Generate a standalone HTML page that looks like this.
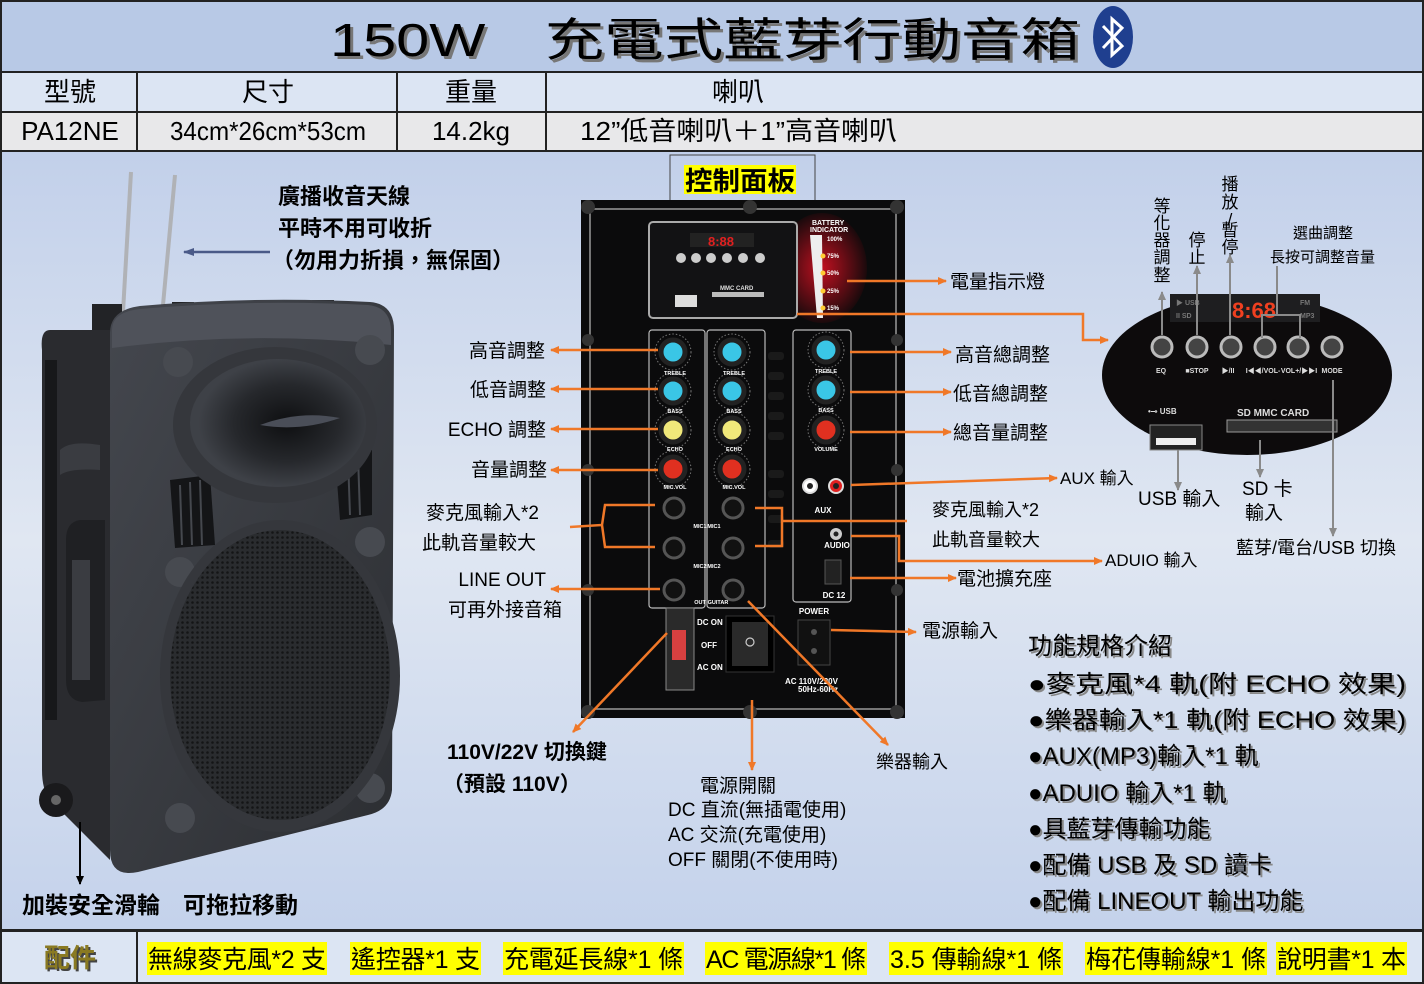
<!DOCTYPE html>
<html><head><meta charset="utf-8"><style>
html,body{margin:0;padding:0;background:#fff}
svg{display:block}
text{font-family:"Liberation Sans","Noto Sans CJK TC",sans-serif}
</style></head><body>
<svg width="1424" height="984" viewBox="0 0 1424 984" xmlns="http://www.w3.org/2000/svg">
<defs>
<linearGradient id="bg" x1="0" y1="0" x2="0" y2="1">
<stop offset="0" stop-color="#c2d0ea"/><stop offset="0.5" stop-color="#e0e7f2"/><stop offset="1" stop-color="#c4d2eb"/>
</linearGradient>
<linearGradient id="face" x1="0" y1="0" x2="1" y2="1">
<stop offset="0" stop-color="#44474e"/><stop offset="1" stop-color="#2c2e32"/>
</linearGradient>
<radialGradient id="glow" cx="0.5" cy="0.5" r="0.5">
<stop offset="0" stop-color="#c01020"/><stop offset="1" stop-color="#1a0a0c"/>
</radialGradient>
<radialGradient id="horn" cx="0.55" cy="0.5" r="0.5">
<stop offset="0" stop-color="#0e0f11"/><stop offset="0.6" stop-color="#26282c"/><stop offset="1" stop-color="#3e4147"/>
</radialGradient>
<pattern id="mesh" width="5" height="5" patternUnits="userSpaceOnUse">
<rect width="5" height="5" fill="#2a2c2f"/><circle cx="2.5" cy="2.5" r="1.3" fill="#141516"/>
</pattern>
<marker id="ao" markerWidth="10" markerHeight="10" refX="8" refY="5" orient="auto" markerUnits="userSpaceOnUse"><path d="M0,1 L9,5 L0,9 z" fill="#f07828"/></marker>
<marker id="ag" markerWidth="10" markerHeight="10" refX="8" refY="5" orient="auto" markerUnits="userSpaceOnUse"><path d="M0,1 L9,5 L0,9 z" fill="#8a8a8a"/></marker>
<marker id="ab" markerWidth="12" markerHeight="10" refX="10" refY="5" orient="auto" markerUnits="userSpaceOnUse"><path d="M0,1 L11,5 L0,9 z" fill="#4a5a88"/></marker>
<marker id="ak" markerWidth="10" markerHeight="10" refX="8" refY="5" orient="auto" markerUnits="userSpaceOnUse"><path d="M0,1 L9,5 L0,9 z" fill="#000"/></marker>
</defs>

<rect x="0" y="0" width="1424" height="984" fill="#222"/>
<rect x="2" y="2" width="1420" height="69" fill="#b8c9e6"/>
<rect x="2" y="73" width="134" height="38" fill="#dce5f3"/>
<rect x="138" y="73" width="258" height="38" fill="#dce5f3"/>
<rect x="398" y="73" width="147" height="38" fill="#dce5f3"/>
<rect x="547" y="73" width="875" height="38" fill="#dce5f3"/>
<rect x="2" y="113" width="134" height="37" fill="#e8e8ea"/>
<rect x="138" y="113" width="258" height="37" fill="#e8e8ea"/>
<rect x="398" y="113" width="147" height="37" fill="#e8e8ea"/>
<rect x="547" y="113" width="875" height="37" fill="#e8e8ea"/>
<rect x="2" y="152" width="1420" height="777" fill="url(#bg)"/>
<rect x="2" y="932" width="134" height="50" fill="#dce5f3"/>
<rect x="138" y="932" width="1284" height="50" fill="#dce5f3"/>

<text x="333" y="59" font-size="46" textLength="750" lengthAdjust="spacingAndGlyphs" fill="#777">150W　充電式藍芽行動音箱</text>
<text x="330" y="56" font-size="46" textLength="750" lengthAdjust="spacingAndGlyphs" fill="#000">150W　充電式藍芽行動音箱</text>
<ellipse cx="1113" cy="37" rx="20" ry="31" fill="#1f3f8f"/>
<path d="M1103,26 L1122,46 L1112,55 L1112,19 L1122,28 L1103,48" fill="none" stroke="#fff" stroke-width="3"/>

<g font-size="26" text-anchor="middle">
<text x="70" y="101">型號</text><text x="268" y="101">尺寸</text><text x="471" y="101">重量</text><text x="738" y="101">喇叭</text>
<text x="70" y="140">PA12NE</text><text x="268" y="140" textLength="196" lengthAdjust="spacingAndGlyphs">34cm*26cm*53cm</text><text x="471" y="140">14.2kg</text>
</g>
<text x="580" y="140" font-size="26" textLength="317" lengthAdjust="spacingAndGlyphs">12”低音喇叭＋1”高音喇叭</text>

<!-- speaker -->
<line x1="131" y1="172" x2="123" y2="312" stroke="#b0b2b6" stroke-width="4"/>
<line x1="175" y1="175" x2="163" y2="305" stroke="#b0b2b6" stroke-width="4"/>
<rect x="92" y="304" width="30" height="30" fill="#222326"/>
<rect x="150" y="306" width="24" height="20" fill="#222326"/>
<rect x="172" y="302" width="22" height="14" fill="#222326"/>
<rect x="312" y="300" width="22" height="10" fill="#222326"/>
<path d="M50,330 Q40,330 42,350 L42,770 Q42,790 50,800 L110,860 L110,330 Z" fill="#2a2b2f"/>
<rect x="45" y="360" width="12" height="360" fill="#17181a"/>
<path d="M80,520 Q66,522 66,540 L66,680 Q66,700 82,702 L105,700 L105,520 Z" fill="#1f2023"/>
<rect x="72" y="560" width="18" height="120" fill="#3a3c41"/>
<path d="M60,450 Q70,440 100,445 L100,470 Q70,468 60,475 Z" fill="#3a3c41"/>
<circle cx="56" cy="800" r="17" fill="#1a1a1c"/><circle cx="56" cy="800" r="5" fill="#666"/>
<path d="M110,333 Q110,310 140,306 Q255,296 370,302 Q394,304 394,330 L392,790 Q390,810 368,815 L138,872 Q110,878 110,850 Z" fill="url(#face)"/>
<path d="M112,330 Q112,312 140,309 Q255,299 368,305 Q390,307 391,330 L391,345 Q250,330 112,348 Z" fill="#4f525a"/>
<circle cx="178" cy="362" r="15" fill="#474a50"/><circle cx="370" cy="350" r="15" fill="#474a50"/>
<circle cx="180" cy="572" r="15" fill="#474a50"/><circle cx="370" cy="542" r="15" fill="#474a50"/>
<circle cx="180" cy="818" r="15" fill="#474a50"/><circle cx="370" cy="788" r="15" fill="#474a50"/>
<path d="M170,480 L210,475 L215,545 L175,548 Z" fill="#141517"/>
<path d="M335,455 L372,450 L372,515 L340,520 Z" fill="#141517"/>
<g stroke="#45484e" stroke-width="2"><line x1="180" y1="485" x2="182" y2="545"/><line x1="190" y1="482" x2="192" y2="545"/><line x1="200" y1="480" x2="202" y2="545"/><line x1="348" y1="458" x2="350" y2="515"/><line x1="358" y1="456" x2="360" y2="515"/></g>
<ellipse cx="275" cy="425" rx="102" ry="78" fill="#35373c"/>
<ellipse cx="278" cy="423" rx="88" ry="64" fill="url(#horn)"/>
<path d="M260,425 Q300,410 340,418 Q300,432 260,425 Z" fill="#4a4e58"/>
<ellipse cx="280" cy="676" rx="120" ry="156" fill="#35373c"/>
<ellipse cx="280" cy="675" rx="110" ry="145" fill="url(#mesh)"/>

<g font-size="22" font-weight="bold">
<text x="278" y="204">廣播收音天線</text>
<text x="278" y="236">平時不用可收折</text>
<text x="272" y="268">（勿用力折損，無保固）</text>
</g>
<line x1="270" y1="252" x2="184" y2="252" stroke="#4a5a88" stroke-width="2.5" marker-end="url(#ab)"/>

<line x1="80" y1="822" x2="80" y2="884" stroke="#000" stroke-width="2" marker-end="url(#ak)"/>
<text x="22" y="913" font-size="23" font-weight="bold">加裝安全滑輪　可拖拉移動</text>

<rect x="670" y="155" width="145" height="46" fill="none" stroke="#444" stroke-width="1"/>
<rect x="684" y="165" width="112" height="29" fill="#ffff00"/>
<text x="685" y="190" font-size="26" font-weight="bold" textLength="110" lengthAdjust="spacingAndGlyphs">控制面板</text>

<rect x="581" y="200" width="324" height="518" fill="#0b0b0c"/>
<rect x="590" y="209" width="306" height="500" fill="none" stroke="#9a9a9a" stroke-width="1.5"/>
<g fill="#333"><circle cx="588" cy="207" r="7"/><circle cx="750" cy="207" r="7"/><circle cx="897" cy="207" r="7"/><circle cx="588" cy="712" r="7"/><circle cx="750" cy="712" r="7"/><circle cx="897" cy="712" r="7"/><circle cx="588" cy="340" r="6"/><circle cx="897" cy="340" r="6"/><circle cx="588" cy="470" r="6"/><circle cx="897" cy="470" r="6"/><circle cx="588" cy="590" r="6"/><circle cx="897" cy="590" r="6"/></g>
<ellipse cx="822" cy="268" rx="45" ry="55" fill="url(#glow)"/>
<rect x="649" y="222" width="148" height="96" rx="4" fill="#121214" stroke="#aaa" stroke-width="2"/>
<rect x="690" y="233" width="64" height="14" fill="#222"/>
<text x="708" y="246" font-size="13" fill="#e02020" font-weight="bold">8:88</text>
<g fill="#ccc"><circle cx="681" cy="258" r="5"/><circle cx="696" cy="258" r="5"/><circle cx="711" cy="258" r="5"/><circle cx="727" cy="258" r="5"/><circle cx="743" cy="258" r="5"/><circle cx="760" cy="258" r="5"/></g>
<rect x="675" y="295" width="22" height="12" fill="#ddd"/>
<rect x="712" y="292" width="52" height="5" fill="#bbb"/>
<text x="720" y="290" font-size="6" fill="#ddd" font-weight="bold">MMC CARD</text>
<path d="M810,235 L822,235 L823,318 L817,318 Z" fill="#eee"/>
<text x="812" y="225" font-size="7" fill="#fff" font-weight="bold">BATTERY</text>
<text x="810" y="232" font-size="7" fill="#fff" font-weight="bold">INDICATOR</text>
<g font-size="6" fill="#fff" font-weight="bold"><text x="827" y="241">100%</text><text x="827" y="258">75%</text><text x="827" y="275">50%</text><text x="827" y="293">25%</text><text x="827" y="310">15%</text></g>
<g fill="#ffcc33"><circle cx="823" cy="256" r="2.5"/><circle cx="823" cy="273" r="2.5"/><circle cx="823" cy="291" r="2.5"/><circle cx="823" cy="308" r="2.5"/></g>
<g fill="none" stroke="#bbb" stroke-width="1.2">
<rect x="649" y="330" width="56" height="278" rx="3"/><rect x="707" y="330" width="58" height="278" rx="3"/><rect x="793" y="330" width="58" height="272" rx="3"/></g>
<g fill="#1a1a1a"><rect x="768" y="352" width="16" height="8" rx="3"/><rect x="768" y="372" width="16" height="8" rx="3"/><rect x="768" y="392" width="16" height="8" rx="3"/><rect x="768" y="412" width="16" height="8" rx="3"/><rect x="768" y="432" width="16" height="8" rx="3"/><rect x="768" y="470" width="16" height="8" rx="3"/><rect x="768" y="490" width="16" height="8" rx="3"/><rect x="768" y="515" width="16" height="8" rx="3"/><rect x="768" y="540" width="16" height="8" rx="3"/></g>
<g stroke="#222" stroke-width="5">
<circle cx="673" cy="352" r="12" fill="#3ac6e6"/><circle cx="673" cy="391" r="12" fill="#3ac6e6"/><circle cx="673" cy="430" r="12" fill="#f0e87a"/><circle cx="673" cy="469" r="12" fill="#e03020"/>
<circle cx="732" cy="352" r="12" fill="#3ac6e6"/><circle cx="732" cy="391" r="12" fill="#3ac6e6"/><circle cx="732" cy="430" r="12" fill="#f0e87a"/><circle cx="732" cy="469" r="12" fill="#e03020"/>
<circle cx="826" cy="350" r="12" fill="#3ac6e6"/><circle cx="826" cy="390" r="12" fill="#3ac6e6"/><circle cx="826" cy="430" r="12" fill="#e03020"/>
</g>
<g fill="none" stroke="#777" stroke-dasharray="1.5 2"><circle cx="673" cy="352" r="18"/><circle cx="673" cy="391" r="18"/><circle cx="673" cy="430" r="18"/><circle cx="673" cy="469" r="18"/><circle cx="732" cy="352" r="18"/><circle cx="732" cy="391" r="18"/><circle cx="732" cy="430" r="18"/><circle cx="732" cy="469" r="18"/><circle cx="826" cy="350" r="18"/><circle cx="826" cy="390" r="18"/><circle cx="826" cy="430" r="18"/></g>
<g font-size="5.5" fill="#fff" font-weight="bold" text-anchor="middle"><text x="675" y="375">TREBLE</text><text x="675" y="413">BASS</text><text x="675" y="451">ECHO</text><text x="675" y="489">MIC.VOL</text><text x="734" y="375">TREBLE</text><text x="734" y="413">BASS</text><text x="734" y="451">ECHO</text><text x="734" y="489">MIC.VOL</text><text x="826" y="373">TREBLE</text><text x="826" y="412">BASS</text><text x="826" y="451">VOLUME</text><text x="700" y="528">MIC1</text><text x="714" y="528">MIC1</text><text x="700" y="568">MIC2</text><text x="714" y="568">MIC2</text><text x="700" y="604">OUT</text><text x="718" y="604">GUITAR</text><text x="823" y="513" font-size="8">AUX</text><text x="837" y="548" font-size="8">AUDIO</text><text x="834" y="598" font-size="8">DC 12</text><text x="814" y="614" font-size="8">POWER</text></g>
<g fill="#111" stroke="#555" stroke-width="3"><circle cx="674" cy="508" r="10"/><circle cx="674" cy="548" r="10"/><circle cx="674" cy="590" r="10"/><circle cx="733" cy="508" r="10"/><circle cx="733" cy="548" r="10"/><circle cx="733" cy="590" r="10"/></g>
<circle cx="810" cy="486" r="7" fill="#fff" stroke="#ddd" stroke-width="2"/><circle cx="810" cy="486" r="3" fill="#222"/>
<circle cx="836" cy="486" r="7" fill="#e02020" stroke="#ddd" stroke-width="2"/><circle cx="836" cy="486" r="3" fill="#222"/>
<circle cx="836" cy="534" r="6" fill="#ccc"/><circle cx="836" cy="534" r="2.5" fill="#222"/>
<rect x="825" y="560" width="16" height="24" fill="#222" stroke="#555"/>
<rect x="666" y="608" width="28" height="82" fill="#2a2a2a" stroke="#888"/>
<rect x="672" y="630" width="14" height="30" fill="#d84040"/>
<g font-size="8" fill="#fff" font-weight="bold"><text x="697" y="625">DC ON</text><text x="701" y="648">OFF</text><text x="697" y="670">AC ON</text><text x="785" y="684">AC 110V/220V</text><text x="798" y="692">50Hz-60Hz</text></g>
<rect x="726" y="616" width="48" height="56" fill="#000" stroke="#333"/>
<rect x="732" y="622" width="36" height="44" fill="#2a2a2a"/>
<circle cx="750" cy="642" r="4" fill="none" stroke="#ccc" stroke-width="1.2"/>
<rect x="798" y="620" width="32" height="45" fill="#111" stroke="#444"/>
<circle cx="814" cy="632" r="3" fill="#555"/><circle cx="814" cy="651" r="3" fill="#555"/>

<g font-size="19" text-anchor="end"><text x="545" y="357">高音調整</text><text x="546" y="396">低音調整</text><text x="546" y="436">ECHO 調整</text><text x="547" y="476">音量調整</text><text x="539" y="519">麥克風輸入*2</text><text x="536" y="549">此軌音量較大</text><text x="546" y="586">LINE OUT</text><text x="562" y="616">可再外接音箱</text></g>
<g stroke="#f07828" stroke-width="2.5" fill="none">
<line x1="658" y1="350" x2="551" y2="350" marker-end="url(#ao)"/>
<line x1="658" y1="389" x2="551" y2="389" marker-end="url(#ao)"/>
<line x1="658" y1="429" x2="551" y2="429" marker-end="url(#ao)"/>
<line x1="658" y1="470" x2="551" y2="470" marker-end="url(#ao)"/>
<path d="M655,505 L605,505 L602,525 L570,527 M602,525 L605,547 L655,547"/>
<line x1="660" y1="589" x2="551" y2="589" marker-end="url(#ao)"/>
<line x1="667" y1="633" x2="573" y2="732" marker-end="url(#ao)"/>
<line x1="752" y1="700" x2="752" y2="770" marker-end="url(#ao)"/>
<line x1="748" y1="601" x2="888" y2="745" marker-end="url(#ao)"/>
<line x1="847" y1="281" x2="946" y2="281" marker-end="url(#ao)"/>
<path d="M797,314 L1083,314 L1083,340 L1108,340" marker-end="url(#ao)"/>
<line x1="850" y1="352" x2="951" y2="352" marker-end="url(#ao)"/>
<line x1="850" y1="392" x2="951" y2="392" marker-end="url(#ao)"/>
<line x1="850" y1="432" x2="951" y2="432" marker-end="url(#ao)"/>
<line x1="851" y1="485" x2="1057" y2="478" marker-end="url(#ao)"/>
<path d="M755,508 L782,508 L782,546 L755,546 M782,521 L907,521"/>
<path d="M851,536 L899,536 L899,561 L1102,561" marker-end="url(#ao)"/>
<line x1="850" y1="578" x2="956" y2="578" marker-end="url(#ao)"/>
<line x1="831" y1="630" x2="916" y2="632" marker-end="url(#ao)"/>
</g>
<g font-size="19"><text x="950" y="288">電量指示燈</text><text x="955" y="361">高音總調整</text><text x="953" y="400">低音總調整</text><text x="953" y="439">總音量調整</text><text x="1060" y="484" font-size="17">AUX 輸入</text><text x="932" y="516" font-size="18">麥克風輸入*2</text><text x="932" y="546" font-size="18">此軌音量較大</text><text x="1105" y="566" font-size="17">ADUIO 輸入</text><text x="957" y="585">電池擴充座</text><text x="922" y="637">電源輸入</text><text x="876" y="768" font-size="18">樂器輸入</text></g>
<g font-size="21" font-weight="bold"><text x="447" y="759">110V/22V 切換鍵</text><text x="443" y="791">（預設 110V）</text></g>
<g font-size="19"><text x="700" y="792">電源開關</text><text x="668" y="816">DC 直流(無插電使用)</text><text x="668" y="841">AC 交流(充電使用)</text><text x="668" y="866">OFF 關閉(不使用時)</text></g>

<ellipse cx="1247" cy="375" rx="145" ry="80" fill="#0d0b0c"/>
<rect x="1170" y="294" width="150" height="28" fill="#1e1e20"/>
<text x="1232" y="318" font-size="22" fill="#f04020" font-weight="bold">8:68</text>
<g font-size="7" fill="#777" font-weight="bold"><text x="1176" y="305">▶ USB</text><text x="1176" y="318">II  SD</text><text x="1300" y="305">FM</text><text x="1300" y="318">MP3</text></g>
<g fill="#444" stroke="#bbb" stroke-width="3"><circle cx="1162" cy="347" r="10"/><circle cx="1197" cy="347" r="10"/><circle cx="1231" cy="347" r="10"/><circle cx="1265" cy="347" r="10"/><circle cx="1298" cy="347" r="10"/><circle cx="1332" cy="347" r="10"/></g>
<g font-size="7" fill="#ddd" font-weight="bold" text-anchor="middle"><text x="1161" y="373">EQ</text><text x="1197" y="373">■STOP</text><text x="1228" y="373">▶/II</text><text x="1263" y="373">I◀◀/VOL-</text><text x="1299" y="373">VOL+/▶▶I</text><text x="1332" y="373">MODE</text></g>
<text x="1148" y="414" font-size="8" fill="#ddd" font-weight="bold">•⊸ USB</text>
<text x="1237" y="416" font-size="10" fill="#ddd" font-weight="bold">SD  MMC CARD</text>
<rect x="1150" y="425" width="52" height="25" fill="#222" stroke="#888"/>
<rect x="1156" y="438" width="40" height="7" fill="#eee"/>
<rect x="1227" y="420" width="110" height="12" fill="#333" stroke="#999"/>
<g stroke="#8a8a8a" stroke-width="2" fill="none">
<line x1="1162" y1="335" x2="1162" y2="292" marker-end="url(#ag)"/>
<line x1="1197" y1="335" x2="1197" y2="266" marker-end="url(#ag)"/>
<line x1="1230" y1="335" x2="1230" y2="255" marker-end="url(#ag)"/>
<path d="M1262,338 L1262,315 L1277,315 L1277,266 M1277,315 L1300,315 L1300,338"/>
<line x1="1178" y1="450" x2="1178" y2="490" marker-end="url(#ag)"/>
<line x1="1260" y1="440" x2="1260" y2="477" marker-end="url(#ag)"/>
<line x1="1333" y1="380" x2="1333" y2="536" marker-end="url(#ag)"/>
</g>
<g font-size="17" text-anchor="middle"><text x="1162" y="212">等</text><text x="1162" y="229">化</text><text x="1162" y="246">器</text><text x="1162" y="263">調</text><text x="1162" y="281">整</text><text x="1197" y="246">停</text><text x="1197" y="263">止</text><text x="1230" y="190">播</text><text x="1230" y="208">放</text><text x="1230" y="225">/</text><text x="1230" y="236">暫</text><text x="1230" y="253">停</text></g>
<g font-size="15"><text x="1293" y="238">選曲調整</text><text x="1270" y="262">長按可調整音量</text></g>
<g font-size="19"><text x="1138" y="505">USB 輸入</text><text x="1242" y="495">SD 卡</text><text x="1245" y="519">輸入</text><text x="1236" y="554" font-size="18">藍芽/電台/USB 切換</text></g>

<g font-size="24" fill="#888" transform="translate(2,2)"><text x="1028" y="654">功能規格介紹</text><text x="1028" y="692" textLength="378" lengthAdjust="spacingAndGlyphs">●麥克風*4 軌(附 ECHO 效果)</text><text x="1028" y="728" textLength="378" lengthAdjust="spacingAndGlyphs">●樂器輸入*1 軌(附 ECHO 效果)</text><text x="1028" y="764">●AUX(MP3)輸入*1 軌</text><text x="1028" y="801">●ADUIO 輸入*1 軌</text><text x="1028" y="837">●具藍芽傳輸功能</text><text x="1028" y="873">●配備 USB 及 SD 讀卡</text><text x="1028" y="909">●配備 LINEOUT 輸出功能</text></g>
<g font-size="24"><text x="1028" y="654">功能規格介紹</text><text x="1028" y="692" textLength="378" lengthAdjust="spacingAndGlyphs">●麥克風*4 軌(附 ECHO 效果)</text><text x="1028" y="728" textLength="378" lengthAdjust="spacingAndGlyphs">●樂器輸入*1 軌(附 ECHO 效果)</text><text x="1028" y="764">●AUX(MP3)輸入*1 軌</text><text x="1028" y="801">●ADUIO 輸入*1 軌</text><text x="1028" y="837">●具藍芽傳輸功能</text><text x="1028" y="873">●配備 USB 及 SD 讀卡</text><text x="1028" y="909">●配備 LINEOUT 輸出功能</text></g>

<text x="72" y="969" font-size="26" font-weight="bold" text-anchor="middle" fill="#444">配件</text>
<text x="70" y="967" font-size="26" font-weight="bold" text-anchor="middle" fill="#8a7a22">配件</text>
<g fill="#ffff00"><rect x="147" y="942" width="180" height="33"/><rect x="350" y="942" width="131" height="33"/><rect x="503" y="942" width="181" height="33"/><rect x="705" y="942" width="162" height="33"/><rect x="889" y="942" width="174" height="33"/><rect x="1085" y="942" width="182" height="33"/><rect x="1276" y="942" width="131" height="33"/></g>
<g font-size="25" lengthAdjust="spacingAndGlyphs"><text x="148" y="968" textLength="178">無線麥克風*2 支</text><text x="351" y="968" textLength="129">遙控器*1 支</text><text x="504" y="968" textLength="179">充電延長線*1 條</text><text x="706" y="968" textLength="160">AC 電源線*1 條</text><text x="890" y="968" textLength="172">3.5 傳輸線*1 條</text><text x="1086" y="968" textLength="180">梅花傳輸線*1 條</text><text x="1277" y="968" textLength="129">說明書*1 本</text></g>
</svg>
</body></html>
